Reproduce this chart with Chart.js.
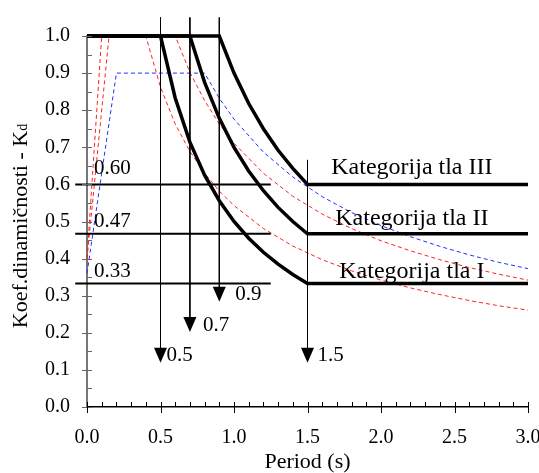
<!DOCTYPE html>
<html>
<head>
<meta charset="utf-8">
<script src="https://cdn.jsdelivr.net/npm/chart.js@4.4.1/dist/chart.umd.min.js"></script>
<style>
body { margin: 0; background: #fff; }
</style>
</head>
<body>
<canvas id="kdChart" width="539" height="473"></canvas>
<script>
// design spectra (thick black), one per soil category
const catIPeriod = [0, 0.5, 0.6, 0.7, 0.8, 0.9, 1.0, 1.1, 1.2, 1.3, 1.4, 1.5, 3.0];
const catIKd = [1.0, 1.0, 0.833, 0.714, 0.625, 0.556, 0.5, 0.455, 0.417, 0.385, 0.357, 0.333, 0.333];
const catIIPeriod = [0, 0.7, 0.8, 0.9, 1.0, 1.1, 1.2, 1.3, 1.4, 1.5, 3.0];
const catIIKd = [1.0, 1.0, 0.875, 0.778, 0.7, 0.636, 0.583, 0.538, 0.5, 0.467, 0.467];
const catIIIPeriod = [0, 0.9, 1.0, 1.1, 1.2, 1.3, 1.4, 1.5, 3.0];
const catIIIKd = [1.0, 1.0, 0.9, 0.818, 0.75, 0.692, 0.643, 0.6, 0.6];

// dashed comparison spectra
const redAPeriod = [0, 0.1, 0.4, 0.5, 0.6, 0.7, 0.8, 0.9, 1.0, 1.2, 1.4, 1.6, 1.8, 2.0, 2.2, 2.4, 2.6, 2.8, 3.0];
const redAKd = [0.40, 1.0, 1.0, 0.862, 0.763, 0.689, 0.630, 0.582, 0.543, 0.481, 0.434, 0.397, 0.367, 0.342, 0.321, 0.303, 0.287, 0.273, 0.261];
const redBPeriod = [0, 0.15, 0.6, 0.7, 0.8, 0.9, 1.0, 1.2, 1.4, 1.6, 1.8, 2.0, 2.2, 2.4, 2.6, 2.8, 3.0];
const redBKd = [0.40, 1.0, 1.0, 0.902, 0.826, 0.763, 0.711, 0.630, 0.568, 0.520, 0.481, 0.448, 0.421, 0.397, 0.376, 0.358, 0.342];
const bluePeriod = [0, 0.2, 0.8, 0.9, 1.0, 1.2, 1.4, 1.6, 1.8, 2.0, 2.2, 2.4, 2.6, 2.8, 3.0];
const blueKd = [0.36, 0.9, 0.9, 0.832, 0.776, 0.687, 0.620, 0.567, 0.524, 0.489, 0.459, 0.433, 0.410, 0.390, 0.373];

// horizontal reference levels and corner periods
const refLevels = [0.60, 0.467, 0.333];
const refLabels = ['0.60', '0.47', '0.33'];
const refSpan = [-0.08, 1.25];
const cornerPeriods = [0.5, 0.7, 0.9, 1.5];
const cornerLabels = ['0.5', '0.7', '0.9', '1.5'];
const cornerTop = [1.05, 1.05, 1.05, 0.666];
const cornerTip = [0.119, 0.202, 0.284, 0.119];
const categoryLabels = ['Kategorija tla III', 'Kategorija tla II', 'Kategorija tla I'];

const FONT = 'Liberation Serif';

function toPoints(xs, ys) {
    return xs.map((x, i) => ({ x: x, y: ys[i] }));
}

function curve(xs, ys, color, width, dash) {
    return {
        data: toPoints(xs, ys),
        showLine: true,
        borderColor: color,
        borderWidth: width,
        borderDash: dash || [],
        pointRadius: 0,
        fill: false,
        clip: false
    };
}

let datasets = [
    curve(catIPeriod, catIKd, '#000', 3.5),
    curve(catIIPeriod, catIIKd, '#000', 3.5),
    curve(catIIIPeriod, catIIIKd, '#000', 3.5)
];
refLevels.forEach((lv) => {
    datasets.push(curve(refSpan, [lv, lv], '#000', 2));
});
cornerPeriods.forEach((t, i) => {
    datasets.push(curve([t, t], [cornerTop[i], cornerTip[i] + 0.02], '#000', 1));
});
datasets.push(curve(redAPeriod, redAKd, '#ff2020', 1, [4, 3]));
datasets.push(curve(redBPeriod, redBKd, '#ff2020', 1, [4, 3]));
datasets.push(curve(bluePeriod, blueKd, '#2030ff', 1, [4, 3]));

const extras = {
    id: 'extras',
    afterDraw(chart) {
        const ctx = chart.ctx;
        const x = chart.scales.x, y = chart.scales.y;
        const x0 = x.getPixelForValue(0), y0 = y.getPixelForValue(0);
        ctx.save();

        // y ticks: majors cross the axis, minors point inward
        ctx.strokeStyle = '#666';
        ctx.lineWidth = 1;
        for (let i = 0; i <= 20; i++) {
            const py = Math.round(y.getPixelForValue(i * 0.05)) + 0.5;
            ctx.beginPath();
            ctx.moveTo(i % 2 ? x0 : x0 - 5, py);
            ctx.lineTo(x0 + 5, py);
            ctx.stroke();
        }
        // x ticks
        ctx.strokeStyle = '#000';
        for (let i = 0; i <= 30; i++) {
            const px = Math.round(x.getPixelForValue(i * 0.1)) + 0.5;
            ctx.beginPath();
            ctx.moveTo(px, y0 - 5);
            ctx.lineTo(px, i % 5 ? y0 : y0 + 6);
            ctx.stroke();
        }

        // arrow heads + period labels
        const labelShift = [6, 13, 16, 10];
        ctx.fillStyle = '#000';
        ctx.font = '21px ' + FONT;
        ctx.textBaseline = 'middle';
        ctx.textAlign = 'left';
        cornerPeriods.forEach((t, i) => {
            const px = x.getPixelForValue(t);
            const tip = y.getPixelForValue(cornerTip[i]);
            ctx.beginPath();
            ctx.moveTo(px, tip);
            ctx.lineTo(px - 6.5, tip - 15);
            ctx.lineTo(px + 6.5, tip - 15);
            ctx.closePath();
            ctx.fill();
            ctx.fillText(cornerLabels[i], px + labelShift[i], tip - 7);
        });

        // level labels near the axis
        const levelLift = [10, 7, 6];
        ctx.textBaseline = 'alphabetic';
        refLevels.forEach((lv, i) => {
            ctx.fillText(refLabels[i], x0 + 7, y.getPixelForValue(lv) - levelLift[i]);
        });

        // category labels
        const catLift = [10, 9, 5];
        ctx.font = '24px ' + FONT;
        ctx.textAlign = 'center';
        categoryLabels.forEach((txt, i) => {
            ctx.fillText(txt, x.getPixelForValue(2.21), y.getPixelForValue(refLevels[i]) - catLift[i]);
        });

        // axis titles
        ctx.font = '22px ' + FONT;
        ctx.fillText('Period (s)', (chart.chartArea.left + chart.chartArea.right) / 2, 468);

        ctx.translate(27, 226);
        ctx.rotate(-Math.PI / 2);
        const main = 'Koef.dinamičnosti - K';
        ctx.font = '22px ' + FONT;
        const wMain = ctx.measureText(main).width;
        ctx.font = '14px ' + FONT;
        const wSub = ctx.measureText('d').width;
        const start = -(wMain + wSub) / 2;
        ctx.textAlign = 'left';
        ctx.font = '22px ' + FONT;
        ctx.fillText(main, start, 0);
        ctx.font = '14px ' + FONT;
        ctx.fillText('d', start + wMain, 0);

        ctx.restore();
    }
};

new Chart(document.getElementById('kdChart'), {
    type: 'scatter',
    data: { datasets: datasets },
    options: {
        responsive: false,
        animation: false,
        layout: { padding: { top: 36, right: 11, left: 0, bottom: 0 } },
        plugins: { legend: { display: false }, tooltip: { enabled: false } },
        scales: {
            x: {
                type: 'linear',
                min: 0,
                max: 3,
                grid: { display: false, drawTicks: false },
                border: { display: true, color: '#000', width: 1.5 },
                ticks: {
                    stepSize: 0.5,
                    padding: 19,
                    color: '#000',
                    font: { family: FONT, size: 20 },
                    callback: (v) => v.toFixed(1)
                },
                afterFit: (s) => { s.height = 66; s.paddingLeft = 0; s.paddingRight = 0; }
            },
            y: {
                min: 0,
                max: 1,
                grid: { display: false, drawTicks: false },
                border: { display: true, color: '#777', width: 2 },
                ticks: {
                    stepSize: 0.1,
                    padding: 17,
                    color: '#000',
                    font: { family: FONT, size: 20 },
                    callback: (v) => v.toFixed(1)
                },
                afterFit: (s) => { s.width = 87; s.paddingTop = 0; s.paddingBottom = 0; }
            }
        }
    },
    plugins: [extras]
});
</script>
</body>
</html>
